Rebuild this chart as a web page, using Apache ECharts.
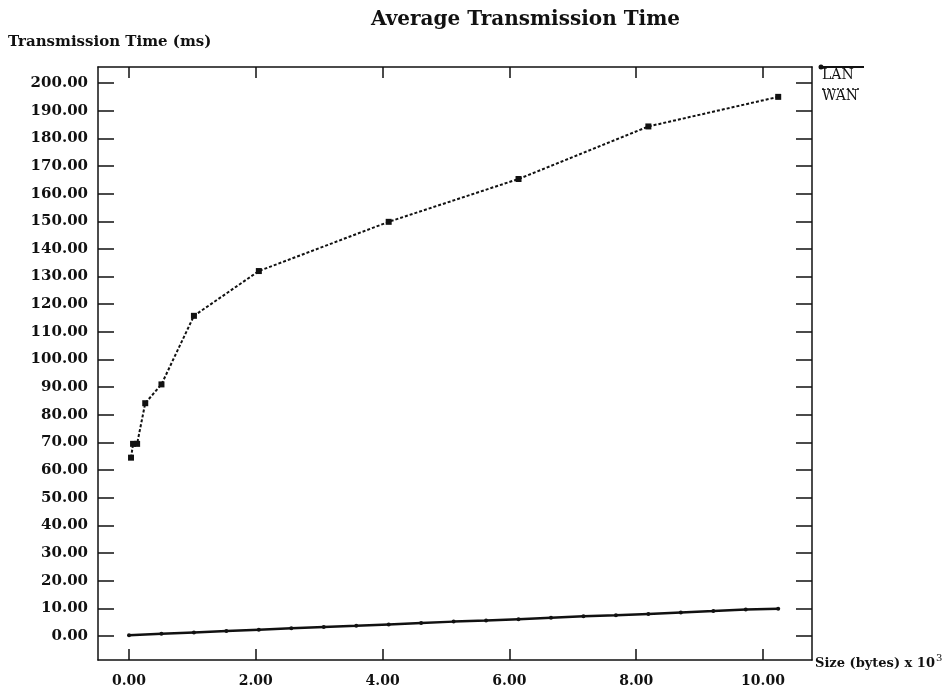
<!DOCTYPE html>
<html>
<head>
<meta charset="utf-8">
<script src="https://cdn.jsdelivr.net/npm/echarts@6/dist/echarts.min.js"></script>
<style>
  html, body { margin: 0; padding: 0; background: #fff; }
  #chart { width: 951px; height: 693px; }
</style>
</head>
<body>
<div id="chart"></div>
<script>
// size in thousands of bytes
const wanSize = [0.032, 0.064, 0.128, 0.256, 0.512, 1.024, 2.048, 4.096, 6.144, 8.192, 10.24]
const wanTime = [64.5, 69.5, 69.5, 84.2, 91.0, 115.8, 132.0, 149.8, 165.3, 184.3, 195.0]

const lanSize = [0, 0.512, 1.024, 1.536, 2.048, 2.56, 3.072, 3.584, 4.096, 4.608, 5.12,
  5.632, 6.144, 6.656, 7.168, 7.68, 8.192, 8.704, 9.216, 9.728, 10.24]
const lanTime = [0.3, 0.8, 1.3, 1.8, 2.3, 2.8, 3.3, 3.7, 4.2, 4.7, 5.2,
  5.6, 6.1, 6.6, 7.1, 7.5, 8.0, 8.5, 9.0, 9.6, 9.9]

const xTicks = [0, 2, 4, 6, 8, 10]
const yTicks = [0, 10, 20, 30, 40, 50, 60, 70, 80, 90, 100,
  110, 120, 130, 140, 150, 160, 170, 180, 190, 200]

const font = 'DejaVu Serif'
const ink = '#111'

const chart = echarts.init(document.getElementById('chart'))

const xBase = {
  type: 'value',
  min: -0.489,
  max: 10.773,
  splitLine: { show: false },
  axisLine: { onZero: false, lineStyle: { color: ink, width: 1.5 } },
  axisTick: { inside: true, length: 11, customValues: xTicks, lineStyle: { color: ink, width: 1.5 } }
}
const yBase = {
  type: 'value',
  min: -8.68,
  max: 205.8,
  splitLine: { show: false },
  axisLine: { show: true, onZero: false, lineStyle: { color: ink, width: 1.5 } },
  axisTick: { show: true, inside: true, length: 16, customValues: yTicks, lineStyle: { color: ink, width: 1.5 } }
}

chart.setOption({
  animation: false,
  backgroundColor: '#fff',
  title: {
    text: 'Average Transmission Time',
    left: 366,
    top: 5,
    textStyle: { fontFamily: font, fontWeight: 'bold', fontSize: 20, color: ink }
  },
  grid: { left: 98, right: 139, top: 67, bottom: 33 },
  xAxis: [
    {
      ...xBase,
      position: 'bottom',
      name: '{n|Size (bytes) x 10}{s|3}',
      nameLocation: 'end',
      nameGap: 3,
      nameTextStyle: {
        rich: {
          n: { fontFamily: font, fontWeight: 'bold', fontSize: 13, color: ink, padding: [8, 0, 0, 0] },
          s: { fontFamily: font, fontSize: 10, color: ink, padding: [0, 0, 4, 1] }
        }
      },
      axisLabel: {
        customValues: xTicks,
        margin: 14,
        fontFamily: font,
        fontWeight: 'bold',
        fontSize: 14,
        color: ink,
        formatter: v => v.toFixed(2)
      }
    },
    {
      ...xBase,
      position: 'top',
      axisLabel: { show: false }
    }
  ],
  yAxis: [
    {
      ...yBase,
      position: 'left',
      axisLabel: {
        customValues: yTicks,
        margin: 10,
        fontFamily: font,
        fontWeight: 'bold',
        fontSize: 15,
        color: ink,
        formatter: v => v.toFixed(2)
      }
    },
    {
      ...yBase,
      position: 'right',
      axisLabel: { show: false }
    }
  ],
  graphic: [
    {
      type: 'text', left: 8, top: 35,
      style: { text: 'Transmission Time (ms)', font: 'bold 15px "' + font + '"', fill: ink }
    },
    { type: 'line', shape: { x1: 820, y1: 67, x2: 864, y2: 67 }, style: { stroke: ink, lineWidth: 2 } },
    { type: 'circle', shape: { cx: 821, cy: 67, r: 2.5 }, style: { fill: ink } },
    {
      type: 'text', left: 822, top: 68,
      style: { text: 'LAN', font: '14px "' + font + '"', fill: ink }
    },
    { type: 'line', shape: { x1: 822, y1: 89, x2: 862, y2: 89 }, style: { stroke: ink, lineWidth: 1.5, lineDash: [2, 3] } },
    {
      type: 'text', left: 822, top: 89,
      style: { text: 'WAN', font: '14px "' + font + '"', fill: ink }
    }
  ],
  series: [
    {
      name: 'LAN',
      type: 'line',
      data: lanSize.map((x, i) => [x, lanTime[i]]),
      symbol: 'circle',
      symbolSize: 4,
      lineStyle: { color: ink, width: 2.5 },
      itemStyle: { color: ink }
    },
    {
      name: 'WAN',
      type: 'line',
      data: wanSize.map((x, i) => [x, wanTime[i]]),
      symbol: 'rect',
      symbolSize: 6,
      lineStyle: { color: ink, width: 2, type: [3, 2] },
      itemStyle: { color: ink }
    }
  ]
})
</script>
</body>
</html>
